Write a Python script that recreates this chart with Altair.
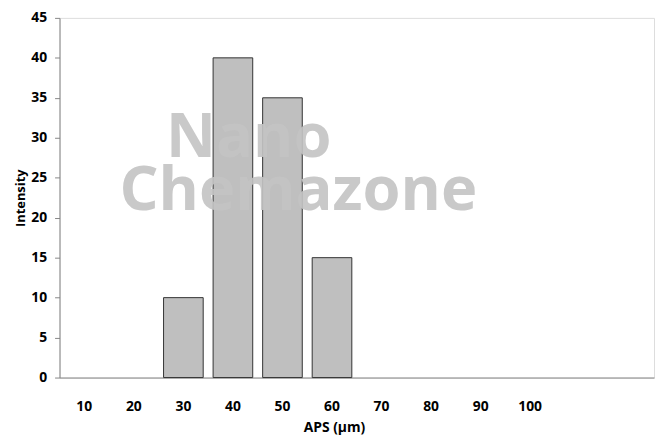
import altair as alt
import pandas as pd

categories = [10, 20, 30, 40, 50, 60, 70, 80, 90, 100]
intensity = [0, 0, 10, 40, 35, 15, 0, 0, 0, 0]
axis_slots = [10, 20, 30, 40, 50, 60, 70, 80, 90, 100, 110, 120]
y_ticks = [0, 5, 10, 15, 20, 25, 30, 35, 40, 45]

df = pd.DataFrame({"APS": categories, "Intensity": intensity})

FONT = "Open Sans"

x_enc = alt.X(
    "APS:O",
    scale=alt.Scale(domain=axis_slots, paddingInner=0.2, paddingOuter=0.1),
    axis=alt.Axis(
        title="APS (µm)",
        labelAngle=0,
        ticks=False,
        labelPadding=22,
        labelExpr="datum.value <= 100 ? datum.label : ''",
        labelFont=FONT,
        labelFontSize=14,
        labelFontWeight="bold",
        labelColor="#000000",
        titleFont=FONT,
        titleFontSize=14,
        titleFontWeight="bold",
        titleColor="#000000",
        titlePadding=7,
        titleX=277,
        domainColor="#868686",
        grid=False,
    ),
)

bars = alt.Chart(df).transform_filter("datum.Intensity > 0").mark_bar(
    fill="#BFBFBF", stroke="#333333", strokeWidth=1
).encode(
    x=x_enc,
    y=alt.Y(
        "Intensity:Q",
        scale=alt.Scale(domain=[0, 45], nice=False),
        axis=alt.Axis(
            title="Intensity",
            values=y_ticks,
            grid=False,
            tickSize=5,
            tickColor="#868686",
            domainColor="#868686",
            labelPadding=8,
            labelFont=FONT,
            labelFontSize=14,
            labelFontWeight="bold",
            labelColor="#000000",
            titleFont=FONT,
            titleFontSize=13,
            titleFontWeight="bold",
            titleColor="#000000",
            titlePadding=3,
        ),
    ),
)

wm_nano = alt.Chart(pd.DataFrame({"t": ["Nano"]})).mark_text(
    font=FONT, fontSize=62, fontWeight="bold", color="#C4C4C4", opacity=0.9,
    align="center", baseline="alphabetic"
).encode(text="t:N", x=alt.value(191), y=alt.value(140))

wm_chem = alt.Chart(pd.DataFrame({"t": ["Chemazone"]})).mark_text(
    font=FONT, fontSize=62, fontWeight="bold", color="#C4C4C4", opacity=0.9,
    align="center", baseline="alphabetic"
).encode(text="t:N", x=alt.value(241), y=alt.value(194))

chart = alt.layer(bars, wm_nano, wm_chem).properties(
    width=600,
    height=363,
    autosize=alt.AutoSizeParams(type="none"),
    padding={"left": 52, "top": 8, "right": 2, "bottom": 56},
).configure_view(stroke=None).configure(background="#FFFFFF")

chart.save("out.html", embed_options={"renderer": "svg", "actions": False})
